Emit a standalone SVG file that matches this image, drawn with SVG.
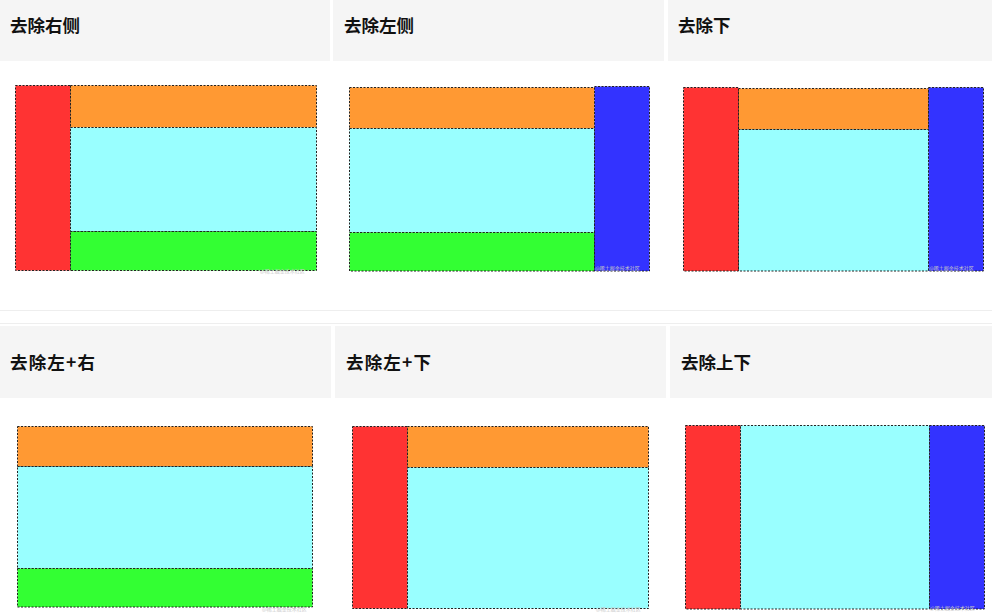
<svg xmlns="http://www.w3.org/2000/svg" width="992" height="614" viewBox="0 0 992 614">
<style>
.hd{fill:#f5f5f5}
.t{font-family:"Noto Sans CJK SC","Noto Sans",sans-serif;font-weight:bold;font-size:17.5px;fill:#111}
.b{stroke:#222;stroke-width:1;stroke-dasharray:2 1.5}
.r{fill:#ff3333}.o{fill:#ff9933}.c{fill:#99ffff}.g{fill:#33ff33}.u{fill:#3333ff}
.wm{font-family:"Noto Sans CJK SC",sans-serif;font-size:5px;fill:#c8c8c8}
.sep{stroke:#eeeeee;stroke-width:1}
</style>
<rect width="992" height="614" fill="#ffffff"/>
<g id="headers">
<rect class="hd" x="0" y="0" width="330" height="61"/>
<rect class="hd" x="333" y="0" width="331" height="61"/>
<rect class="hd" x="668" y="0" width="324" height="61"/>
<rect class="hd" x="0" y="326" width="331" height="72"/>
<rect class="hd" x="335" y="326" width="331" height="72"/>
<rect class="hd" x="670" y="326" width="322" height="72"/>
<line class="sep" x1="0" y1="310.5" x2="992" y2="310.5"/>
<line class="sep" x1="0" y1="323.5" x2="992" y2="323.5"/>
</g>
<g id="p1">
<text class="t" x="10" y="32">去除右侧</text>
<rect class="r b" x="15.5" y="85.5" width="55" height="185"/>
<rect class="o b" x="70.5" y="85.5" width="246" height="42"/>
<rect class="c b" x="70.5" y="127.5" width="246" height="104"/>
<rect class="g b" x="70.5" y="231.5" width="246" height="39"/>
<text class="wm" x="260" y="273">@稀土掘金技术社区</text>
</g>
<g id="p2">
<text class="t" x="344" y="32">去除左侧</text>
<rect class="o b" x="349.5" y="87.5" width="245" height="41"/>
<rect class="c b" x="349.5" y="128.5" width="245" height="104"/>
<rect class="g b" x="349.5" y="232.5" width="245" height="38.5"/>
<rect class="u b" x="594.5" y="86.5" width="55" height="184.5"/>
<text class="wm" x="595" y="270">@稀土掘金技术社区</text>
</g>
<g id="p3">
<text class="t" x="678" y="32">去除下</text>
<rect class="o b" x="738.5" y="88.5" width="190" height="41"/>
<rect class="c b" x="738.5" y="129.5" width="190" height="141.5"/>
<rect class="r b" x="683.5" y="87.5" width="55" height="183.5"/>
<rect class="u b" x="928.5" y="87.5" width="55" height="183.5"/>
<text class="wm" x="929" y="270">@稀土掘金技术社区</text>
</g>
<g id="p4">
<text class="t" x="10" y="369" textLength="85" lengthAdjust="spacing">去除左+右</text>
<rect class="o b" x="17.5" y="426.5" width="295" height="40"/>
<rect class="c b" x="17.5" y="466.5" width="295" height="102"/>
<rect class="g b" x="17.5" y="568.5" width="295" height="38.5"/>
<text class="wm" x="262" y="611">@稀土掘金技术社区</text>
</g>
<g id="p5">
<text class="t" x="346" y="369" textLength="85" lengthAdjust="spacing">去除左+下</text>
<rect class="r b" x="352.5" y="426.5" width="55" height="182"/>
<rect class="o b" x="407.5" y="426.5" width="241" height="41"/>
<rect class="c b" x="407.5" y="467.5" width="241" height="141"/>
<text class="wm" x="596" y="611">@稀土掘金技术社区</text>
</g>
<g id="p6">
<text class="t" x="681" y="369">去除上下</text>
<rect class="c b" x="740.5" y="425.5" width="189" height="183.5"/>
<rect class="r b" x="685.5" y="425.5" width="55" height="183.5"/>
<rect class="u b" x="929.5" y="425.5" width="55" height="183.5"/>
<text class="wm" x="930" y="610">@稀土掘金技术社区</text>
</g>
</svg>
